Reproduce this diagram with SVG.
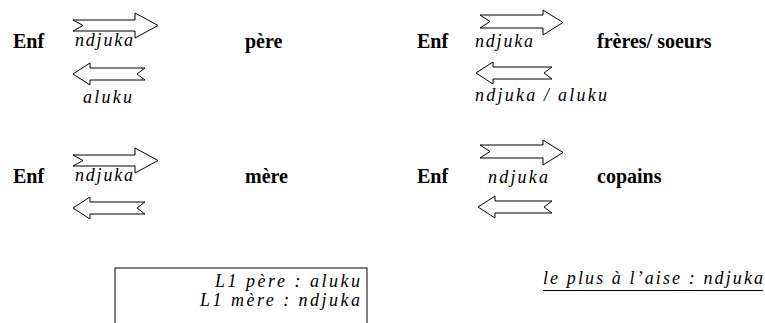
<svg xmlns="http://www.w3.org/2000/svg" width="765" height="323" viewBox="0 0 765 323">
<style>
.b{font-family:"Liberation Serif",serif;font-weight:bold;font-size:20px;fill:#000}
.i{font-family:"Liberation Serif",serif;font-style:italic;font-size:18px;fill:#000}
.ar{fill:#fff;stroke:#000;stroke-width:1}
</style>
<rect width="765" height="323" fill="#fff"/>
<g id="connectors">
<path class="ar" d="M73,20 L135,20 L135,13 L158,25.5 L135,38 L135,31 L73,31 L83,25.5 Z"/>
<path class="ar" d="M73,74 L90,63 L90,68 L145,68 L137,74 L145,80 L90,80 L90,85 Z"/>
<path class="ar" d="M73,155 L135,155 L135,148 L158,160.5 L135,173 L135,166 L73,166 L83,160.5 Z"/>
<path class="ar" d="M73,208 L90,197 L90,202 L145,202 L137,208 L145,214 L90,214 L90,219 Z"/>
<path class="ar" d="M480,15 L543,15 L543,10 L563,22.5 L543,35 L543,28 L480,28 L490,21.5 Z"/>
<path class="ar" d="M476,73 L493,62 L493,67 L552,67 L544,73 L552,79 L493,79 L493,84 Z"/>
<path class="ar" d="M480,145 L543,145 L543,140 L563,152.5 L543,165 L543,158 L480,158 L490,151.5 Z"/>
<path class="ar" d="M478,207 L495,196 L495,201 L552,201 L544,207 L552,213 L495,213 L495,218 Z"/>
</g>
<g id="enf1"><text class="b" x="13" y="48">Enf</text></g>
<g id="pere"><text class="b" x="245" y="48">père</text></g>
<g id="lbl1"><text class="i" x="75" y="46" textLength="58">ndjuka</text><text class="i" x="83" y="103" textLength="49">aluku</text></g>
<g id="enf2"><text class="b" x="417" y="48">Enf</text></g>
<g id="freres"><text class="b" x="597" y="48">frères/ soeurs</text></g>
<g id="lbl2"><text class="i" x="475" y="47" textLength="58">ndjuka</text><text class="i" x="475" y="101" textLength="132">ndjuka / aluku</text></g>
<g id="enf3"><text class="b" x="13" y="183">Enf</text></g>
<g id="mere"><text class="b" x="245" y="183">mère</text></g>
<g id="lbl3"><text class="i" x="75" y="181" textLength="58">ndjuka</text></g>
<g id="enf4"><text class="b" x="417" y="183">Enf</text></g>
<g id="copains"><text class="b" x="597" y="183">copains</text></g>
<g id="lbl4"><text class="i" x="488" y="183" textLength="60">ndjuka</text></g>
<g id="box">
<rect x="115" y="268" width="252" height="60" fill="#fff" stroke="#000" stroke-width="1"/>
<text class="i" x="215" y="287" textLength="145">L1 père : aluku</text>
<text class="i" x="200" y="306" textLength="160">L1 mère : ndjuka</text>
</g>
<g id="aise">
<text class="i" x="543" y="284" textLength="220">le plus à l’aise : ndjuka</text>
<line x1="543" y1="290.5" x2="763" y2="290.5" stroke="#000" stroke-width="1"/>
</g>
</svg>
